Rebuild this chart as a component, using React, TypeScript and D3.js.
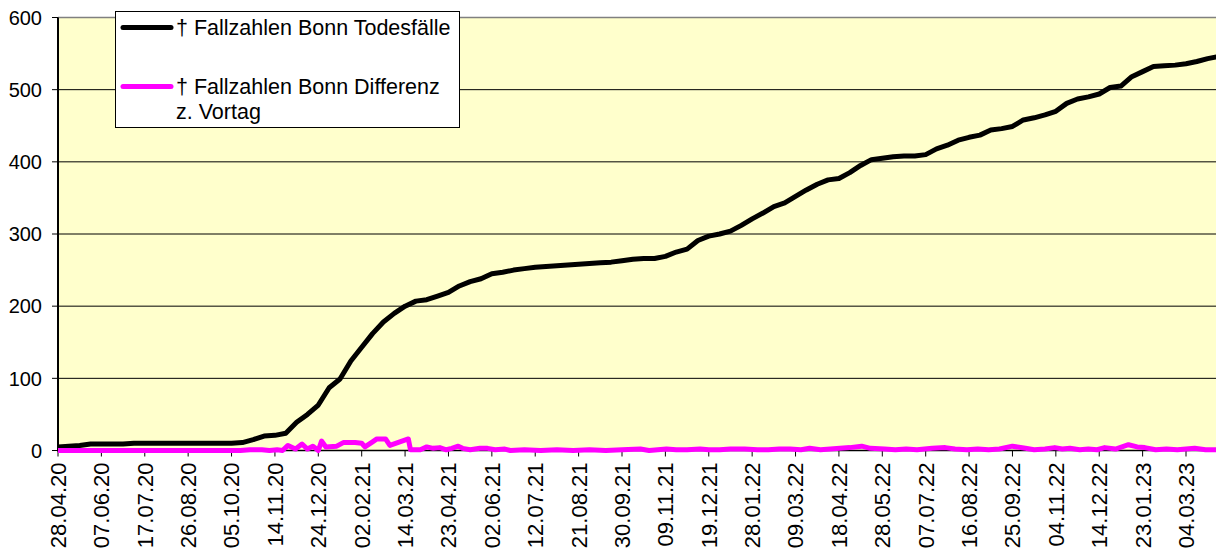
import React from "react";
import * as d3 from "d3";

const startLabel = "28.04.20";
const lastTickLabel = "04.03.23";
const tickLabels = [
  "28.04.20", "07.06.20", "17.07.20", "26.08.20", "05.10.20", "14.11.20", "24.12.20",
  "02.02.21", "14.03.21", "23.04.21", "02.06.21", "12.07.21", "21.08.21", "30.09.21",
  "09.11.21", "19.12.21", "28.01.22", "09.03.22", "18.04.22", "28.05.22", "07.07.22",
  "16.08.22", "25.09.22", "04.11.22", "14.12.22", "23.01.23", "04.03.23",
];
const yTicks = [0, 100, 200, 300, 400, 500, 600];

const seriesNames = ["† Fallzahlen Bonn Todesfälle", "† Fallzahlen Bonn Differenz", "z. Vortag"];

// cumulative deaths, read every 10 days from 28.04.20
const deathStepDays = 10;
const deathValues = [
  5, 6, 7, 9, 9, 9, 9, 10, 10, 10,
  10, 10, 10, 10, 10, 10, 10, 11, 15, 20,
  21, 24, 39, 50, 63, 87, 99, 124, 143, 162,
  178, 190, 200, 207, 209, 214, 219, 228, 234, 238,
  245, 247, 250, 252, 254, 255, 256, 257, 258, 259,
  260, 261, 263, 265, 266, 266, 269, 275, 279, 291,
  297, 300, 304, 312, 321, 329, 338, 343, 352, 361,
  369, 375, 377, 385, 395, 403, 405, 407, 408, 408,
  410, 418, 423, 430, 434, 437, 444, 446, 449, 458,
  461, 465, 470, 481, 487, 490, 494, 503, 505, 518,
  525, 532, 533, 534, 536, 539, 543, 546,
];

// difference to previous day: day offset from 28.04.20 and value
const diffDays = [
  0, 60, 120, 168, 177, 188, 195, 202, 207, 212, 219, 225, 230, 235, 240, 243, 247,
  257, 263, 274, 280, 283, 290, 294, 302, 306, 323, 325, 334, 340, 346, 352, 358,
  363, 369, 373, 380, 389, 396, 403, 412, 417, 430, 445, 460, 475, 490, 505, 520,
  537, 545, 561, 570, 580, 592, 600, 610, 620, 633, 645, 655, 665, 675, 685, 693,
  703, 712, 721, 730, 741, 749, 762, 772, 782, 792, 806, 818, 827, 838, 848, 858,
  868, 880, 892, 900, 910, 919, 926, 933, 942, 950, 958, 965, 975, 987, 995, 1002,
  1012, 1022, 1032, 1040, 1048, 1058, 1068,
];
const diffValues = [
  0, 0, 0, 0, 1, 1, 0, 1, 0, 7, 2, 9, 2, 6, 0, 13, 5,
  6, 11, 11, 10, 5, 12, 16, 16, 7, 16, 1, 1, 5, 3, 4, 1,
  3, 6, 3, 1, 3, 3, 1, 2, 0, 1, 0, 1, 0, 1, 0, 1,
  2, 0, 2, 1, 1, 2, 1, 1, 2, 2, 1, 1, 2, 2, 1, 3,
  1, 2, 3, 4, 6, 3, 2, 1, 2, 1, 3, 4, 2, 1, 2, 1,
  2, 6, 3, 1, 2, 4, 2, 3, 1, 2, 1, 4, 2, 8, 5, 4,
  1, 2, 1, 2, 3, 1, 1,
];

type Pt = { date: Date; v: number };

export default function App() {
  const W = 1216;
  const H = 555;
  const left = 58;
  const font = "'Liberation Sans', Arial, sans-serif";
  const parse = d3.utcParse("%d.%m.%y");
  const start = parse(startLabel) as Date;
  const x = d3.scaleUtc().domain([start, parse(lastTickLabel) as Date]).range([left, 1186]);
  const y = d3.scaleLinear().domain([0, 600]).range([450.5, 17.5]);

  const deathData: Pt[] = deathValues.map((v, i) => ({ date: d3.utcDay.offset(start, i * deathStepDays), v }));
  const diffData: Pt[] = diffDays.map((d, i) => ({ date: d3.utcDay.offset(start, d), v: diffValues[i] }));
  const line = d3.line<Pt>().x((d) => x(d.date)).y((d) => y(d.v));

  return (
    <svg width={W} height={H} style={{ position: "absolute", left: 0, top: 0, background: "#fff" }} fontFamily={font}>
      <defs>
        <clipPath id="plot">
          <rect x={left} y={0} width={W - left} height={y(0) + 4} />
        </clipPath>
      </defs>
      <rect x={left} y={y(600)} width={W - left} height={y(0) - y(600)} fill="#FFFFCC" />
      {yTicks.filter((t) => t > 0).map((t) => (
        <line key={t} x1={left} x2={W} y1={y(t)} y2={y(t)} stroke={t === 600 ? "#808080" : "#000"} strokeWidth={t === 600 ? 1.5 : 1} />
      ))}
      {/* y axis */}
      <line x1={left} x2={left} y1={y(600)} y2={y(0) + 1} stroke="#000" strokeWidth={2} />
      {yTicks.map((t) => (
        <g key={t}>
          <line x1={left - 6} x2={left} y1={y(t)} y2={y(t)} stroke="#000" strokeWidth={1} />
          <text x={42} y={y(t)} dy="0.36em" textAnchor="end" fontSize={20} fill="#000">{t}</text>
        </g>
      ))}
      {/* x axis */}
      <line x1={left} x2={W} y1={y(0)} y2={y(0)} stroke="#000" strokeWidth={1.5} />
      {tickLabels.map((lab) => {
        const tx = x(parse(lab) as Date);
        return (
          <g key={lab}>
            <line x1={tx} x2={tx} y1={y(0)} y2={y(0) + 6} stroke="#000" strokeWidth={1} />
            <text transform={`translate(${tx},${y(0) + 12}) rotate(-90)`} dy="0.36em" textAnchor="end" fontSize={22} fill="#000">{lab}</text>
          </g>
        );
      })}
      <g clipPath="url(#plot)">
        <path d={line(deathData) || ""} fill="none" stroke="#000" strokeWidth={5} strokeLinejoin="round" strokeLinecap="round" />
        <path d={line(diffData) || ""} fill="none" stroke="#FF00FF" strokeWidth={5} strokeLinejoin="round" strokeLinecap="round" />
      </g>
      {/* legend */}
      <rect x={115.5} y={11.5} width={344} height={116} fill="#fff" stroke="#000" strokeWidth={1} />
      <line x1={123} x2={171} y1={27.5} y2={27.5} stroke="#000" strokeWidth={5} strokeLinecap="round" />
      <text x={176} y={35} fontSize={21.5} fill="#000">{seriesNames[0]}</text>
      <line x1={123} x2={171} y1={86.5} y2={86.5} stroke="#FF00FF" strokeWidth={5} strokeLinecap="round" />
      <text x={176} y={94} fontSize={21.5} fill="#000">{seriesNames[1]}</text>
      <text x={176} y={119} fontSize={21.5} fill="#000">{seriesNames[2]}</text>
    </svg>
  );
}
